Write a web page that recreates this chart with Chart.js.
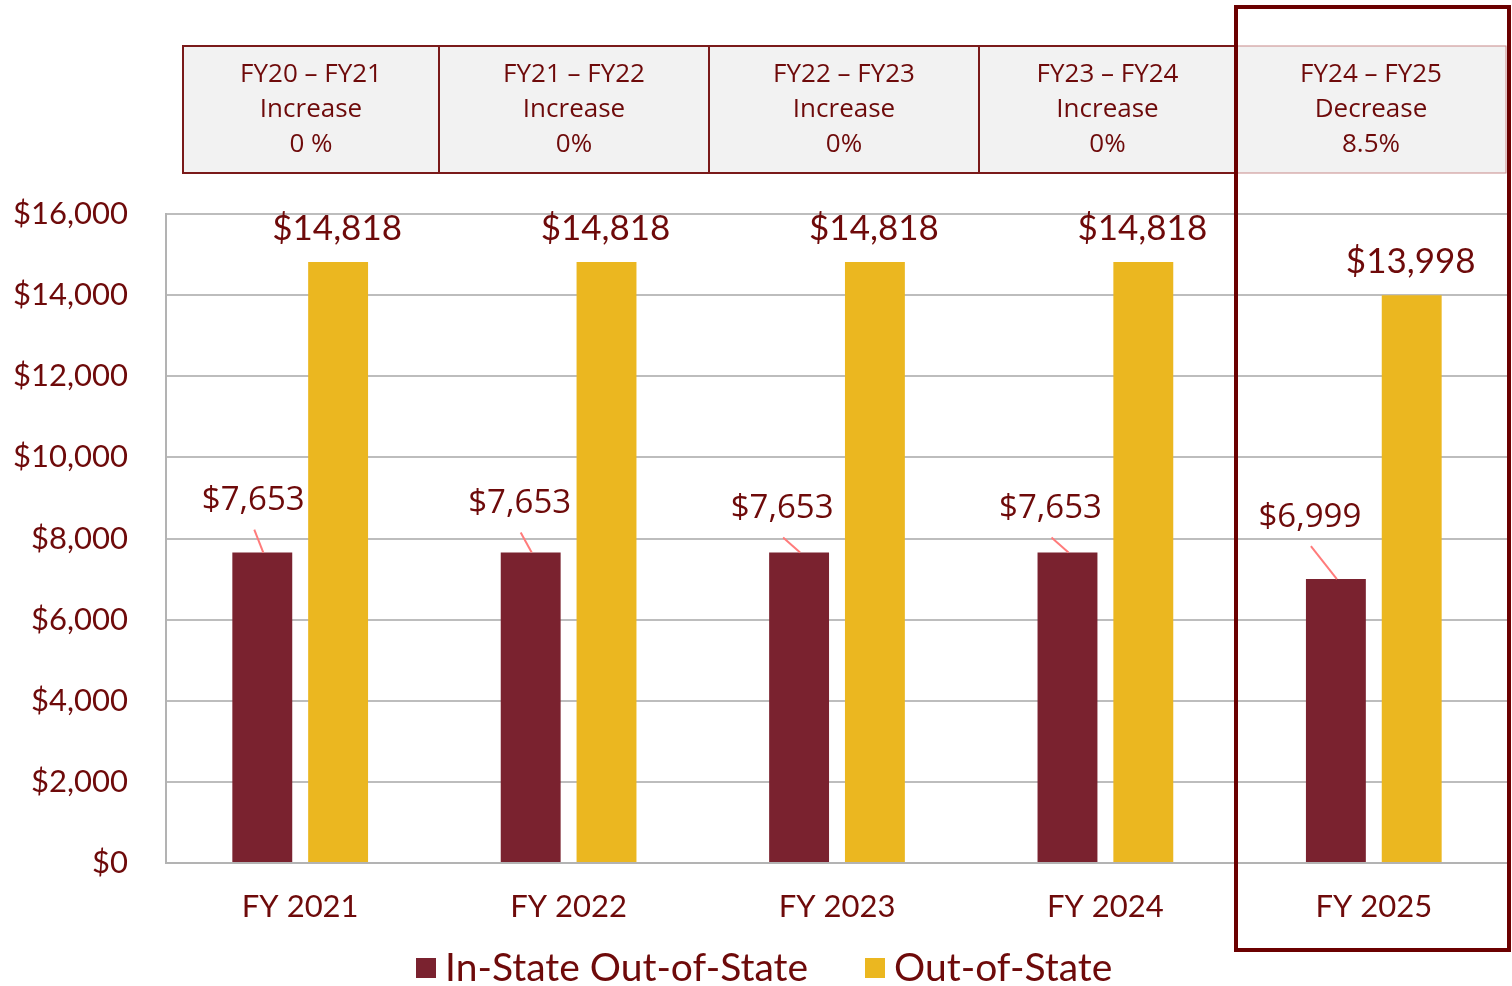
<!DOCTYPE html>
<html>
<head>
<meta charset="utf-8">
<script src="https://cdn.jsdelivr.net/npm/chart.js@4.4.1/dist/chart.umd.min.js"></script>
<style>
  html, body { margin: 0; padding: 0; background: #fff; }
  #wrap { width: 1512px; height: 986px; position: relative; }
</style>
</head>
<body>
<div id="wrap"><canvas id="myChart"></canvas></div>
<script>
// chart data
var years = ['FY 2021', 'FY 2022', 'FY 2023', 'FY 2024', 'FY 2025'];
var inState = [7653, 7653, 7653, 7653, 6999];
var outState = [14818, 14818, 14818, 14818, 13998];
var seriesNames = ['In-State Out-of-State', 'Out-of-State'];
var yTicks = [0, 2000, 4000, 6000, 8000, 10000, 12000, 14000, 16000];
var changeRanges = ['FY20 \u2013 FY21', 'FY21 \u2013 FY22', 'FY22 \u2013 FY23', 'FY23 \u2013 FY24', 'FY24 \u2013 FY25'];
var changeWords = ['Increase', 'Increase', 'Increase', 'Increase', 'Decrease'];
var changePcts = ['0 %', '0%', '0%', '0%', '8.5%'];

var textRed = '#6e0a0a';
var maroon = '#7a222f';
var gold = '#ebb720';

function money(v) {
    return '$' + v.toLocaleString('en-US');
}

// where the in-state labels sit, relative to the top of their bar
var nudgeX = [-9, -11, -17, -17, -26];
var nudgeY = [-52, -49, -44, -44, -62];

var extras = {
    id: 'extras',
    afterDatasetsDraw: function (chart) {
        var ctx = chart.ctx;
        ctx.save();
        var m0 = chart.getDatasetMeta(0);
        var m1 = chart.getDatasetMeta(1);
        m0.data.forEach(function (bar, i) {
            var lx = bar.x + nudgeX[i];
            var ly = bar.y + nudgeY[i];
            ctx.strokeStyle = '#ff7b7b';
            ctx.lineWidth = 2;
            ctx.beginPath();
            ctx.moveTo(lx + 1, ly + 29);
            ctx.lineTo(bar.x + 1, bar.y);
            ctx.stroke();
            ctx.fillStyle = textRed;
            ctx.font = '33px "Open Sans"';
            ctx.textAlign = 'center';
            ctx.textBaseline = 'middle';
            ctx.fillText(money(inState[i]), lx, ly);
        });
        m1.data.forEach(function (bar, i) {
            ctx.fillStyle = textRed;
            ctx.font = '35px Lato';
            ctx.textAlign = 'center';
            ctx.textBaseline = 'middle';
            ctx.fillText(money(outState[i]), bar.x - 1, bar.y - 33);
        });
        ctx.restore();
    },
    afterDraw: function (chart) {
        var ctx = chart.ctx;
        ctx.save();
        // change boxes above the plot
        var edges = [183, 439, 709, 979, 1236, 1506];
        for (var i = 0; i < 5; i++) {
            var x0 = edges[i], x1 = edges[i + 1];
            ctx.fillStyle = '#f2f2f2';
            ctx.fillRect(x0, 46, x1 - x0, 127);
            ctx.strokeStyle = i === 4 ? '#c88a8a' : '#7a1a1a';
            ctx.lineWidth = i === 4 ? 1 : 2;
            ctx.strokeRect(x0, 46, x1 - x0, 127);
            ctx.fillStyle = textRed;
            ctx.font = '26px "Open Sans"';
            ctx.textAlign = 'center';
            ctx.textBaseline = 'middle';
            var cx = (x0 + x1) / 2;
            ctx.fillText(changeRanges[i], cx, 75);
            ctx.fillText(changeWords[i], cx, 110);
            ctx.fillText(changePcts[i], cx, 145);
        }
        // highlight frame round the last year
        ctx.strokeStyle = '#6b0000';
        ctx.lineWidth = 4;
        ctx.strokeRect(1236, 7, 273, 943);

        // legend
        var items = chart.data.datasets;
        var lxs = [416, 865];
        ctx.font = '39px Lato';
        ctx.textAlign = 'left';
        ctx.textBaseline = 'middle';
        items.forEach(function (ds, k) {
            ctx.fillStyle = ds.backgroundColor;
            ctx.fillRect(lxs[k], 958, 20, 20);
            ctx.fillStyle = textRed;
            ctx.fillText(ds.label, lxs[k] + 29, 968);
        });
        ctx.restore();
    }
};

var ctx = document.getElementById('myChart');
var myChart = new Chart(ctx, {
    type: 'bar',
    data: {
        labels: years,
        datasets: [{
            label: seriesNames[0],
            data: inState,
            backgroundColor: maroon,
            categoryPercentage: 0.565,
            barPercentage: 0.79
        }, {
            label: seriesNames[1],
            data: outState,
            backgroundColor: gold,
            categoryPercentage: 0.565,
            barPercentage: 0.79
        }]
    },
    options: {
        responsive: true,
        maintainAspectRatio: false,
        animation: false,
        layout: {
            padding: { top: 214, right: 4, bottom: 0, left: 0 }
        },
        plugins: {
            legend: { display: false },
            tooltip: { enabled: false }
        },
        scales: {
            x: {
                grid: { display: false, drawTicks: false },
                border: { color: '#b3b3b3', width: 2 },
                ticks: {
                    color: textRed,
                    font: { family: 'Lato', size: 31 },
                    padding: 25
                },
                afterFit: function (s) { s.height = 123; }
            },
            y: {
                min: 0,
                max: 16000,
                afterBuildTicks: function (s) {
                    s.ticks = yTicks.map(function (v) { return { value: v }; });
                },
                grid: { color: '#bdbdbd', lineWidth: 2, drawTicks: false },
                border: { color: '#b3b3b3', width: 2 },
                ticks: {
                    color: textRed,
                    font: { family: 'Lato', size: 31 },
                    padding: 38,
                    callback: function (v) { return money(v); }
                },
                afterFit: function (s) { s.width = 166; }
            }
        }
    },
    plugins: [extras]
});
</script>
</body>
</html>
